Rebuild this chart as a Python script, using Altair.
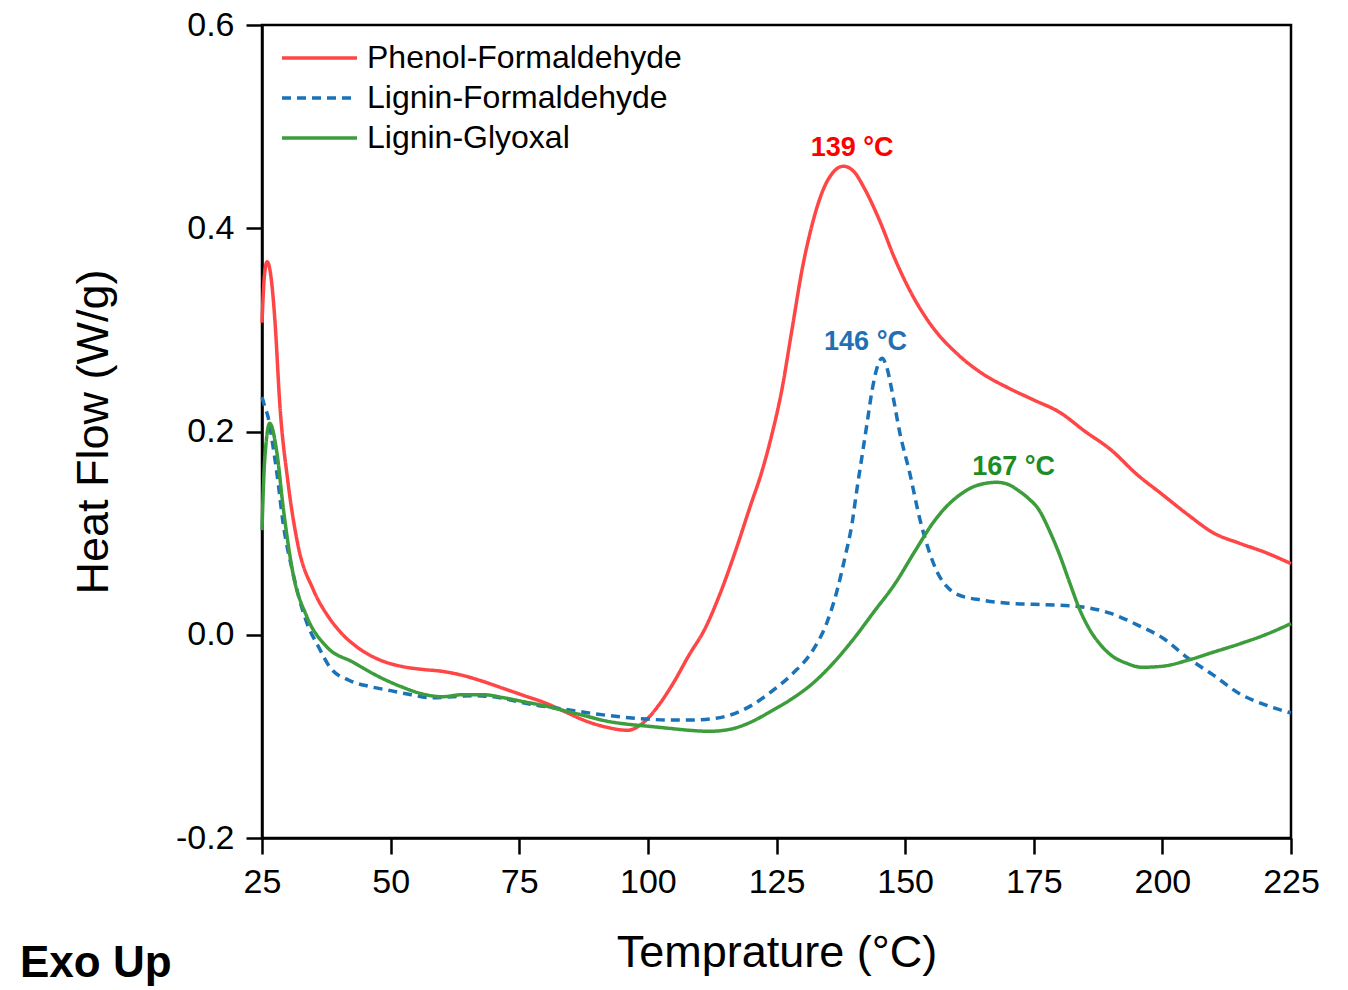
import altair as alt
import pandas as pd

# ---- data ----
pf_t = [25, 25.5, 26, 26.8, 27.5, 28.5, 30, 32, 35, 38, 40, 44, 48, 52, 56, 60, 64, 68, 72, 76,
        80, 84, 88, 92, 96, 99, 102, 105, 108, 111, 114, 117, 120, 122, 124, 126, 128, 130, 132,
        134, 136, 138, 140, 142, 145, 148, 151, 155, 160, 165, 170, 175, 180, 185, 190, 195, 200,
        205, 210, 215, 220, 225]
pf_h = [0.307, 0.355, 0.367, 0.35, 0.31, 0.224, 0.152, 0.088, 0.044, 0.017, 0.004, -0.014, -0.025,
        -0.031, -0.034, -0.036, -0.04, -0.046, -0.053, -0.06, -0.067, -0.076, -0.085, -0.091,
        -0.094, -0.087, -0.07, -0.047, -0.02, 0.005, 0.04, 0.082, 0.128, 0.158, 0.195, 0.24, 0.3,
        0.36, 0.405, 0.437, 0.455, 0.461, 0.456, 0.44, 0.408, 0.37, 0.338, 0.305, 0.277, 0.257,
        0.243, 0.231, 0.219, 0.2, 0.182, 0.158, 0.138, 0.118, 0.1, 0.09, 0.081, 0.07]

lf_t = [25, 25.5, 26.2, 27, 27.9, 29.1, 31, 33.7, 36, 38.2, 42, 46, 50, 54, 58, 62, 66, 70, 74, 78,
        82, 86, 90, 95, 100, 104, 108, 112, 116, 120, 124, 128.2, 132.1, 134.8, 136.8, 138.3,
        139.7, 140.6, 141.6, 142.6, 143.6, 144.5, 145.5, 146.5, 147.4, 149, 150.9, 152.9, 154.8,
        156.4, 158, 160, 165, 170, 175, 180, 185, 190, 195, 200, 205, 210, 215, 220, 225]
lf_h = [0.234, 0.225, 0.214, 0.19, 0.159, 0.11, 0.061, 0.012, -0.012, -0.032, -0.045, -0.051,
        -0.055, -0.059, -0.062, -0.061, -0.06, -0.061, -0.065, -0.069, -0.072, -0.075, -0.078,
        -0.081, -0.083, -0.084, -0.084, -0.083, -0.079, -0.07, -0.056, -0.038, -0.015, 0.012,
        0.044, 0.076, 0.11, 0.142, 0.175, 0.208, 0.241, 0.262, 0.272, 0.262, 0.241, 0.198, 0.159,
        0.113, 0.08, 0.06, 0.048, 0.04, 0.034, 0.031, 0.03, 0.029, 0.027, 0.021, 0.01, -0.003,
        -0.023, -0.04, -0.058, -0.069, -0.077]

lg_t = [25, 25.5, 26.5, 27.9, 29.1, 31, 33.7, 37.6, 42.7, 48, 52, 56, 60, 64, 68, 72, 76, 80, 84,
        88, 92, 96, 100, 104, 108, 112, 116, 120, 124, 128, 132, 136, 140, 144, 148, 152, 155.4,
        158, 161, 164, 167.8, 170, 172, 174, 176, 178, 180, 182, 184, 186, 188, 190, 193, 196, 200,
        205, 210, 215, 220, 225]
lg_h = [0.103, 0.17, 0.208, 0.179, 0.126, 0.061, 0.018, -0.012, -0.027, -0.042, -0.051, -0.058,
        -0.061, -0.059, -0.059, -0.062, -0.066, -0.07, -0.075, -0.08, -0.085, -0.088, -0.09,
        -0.092, -0.094, -0.095, -0.093, -0.086, -0.075, -0.063, -0.048, -0.028, -0.004, 0.023,
        0.05, 0.083, 0.11, 0.126, 0.139, 0.147, 0.15, 0.148, 0.142, 0.134, 0.123, 0.103, 0.079,
        0.051, 0.024, 0.004, -0.01, -0.02, -0.028, -0.032, -0.031, -0.025, -0.017, -0.009, 0.0,
        0.011]

series_names = ["Phenol-Formaldehyde", "Lignin-Formaldehyde", "Lignin-Glyoxal"]
line_colors = ["#ff4646", "#1a72b8", "#3d9d3d"]

peak_text = ["139 °C", "146 °C", "167 °C"]
peak_t = [139.7, 142.3, 171.1]
peak_h = [0.479, 0.288, 0.165]
peak_colors = ["#ff0000", "#1f70b5", "#1e8c1e"]

x_ticks = [25, 50, 75, 100, 125, 150, 175, 200, 225]
y_ticks = [-0.2, 0.0, 0.2, 0.4, 0.6]

FONT = "Liberation Sans"

rows = []
for name, ts, hs in zip(series_names, [pf_t, lf_t, lg_t], [pf_h, lf_h, lg_h]):
    for i, (t, h) in enumerate(zip(ts, hs)):
        rows.append({"series": name, "T": t, "H": h, "i": i})
df = pd.DataFrame(rows)

peaks = pd.DataFrame({"label": peak_text, "T": peak_t, "H": peak_h, "c": peak_colors})

W, H = 1029, 813

xscale = alt.Scale(domain=[25, 225], nice=False, zero=False)
yscale = alt.Scale(domain=[-0.2, 0.6], nice=False, zero=False)

legend_cfg = dict(title=None, orient="none", legendX=40.5, legendY=16,
                  labelFontSize=32, labelFont=FONT, labelColor="black", labelLimit=0,
                  symbolType="M-2.5,0H2.5", symbolSize=900, symbolStrokeWidth=3.5,
                  labelOffset=30.5, rowPadding=7, padding=0)

lines = alt.Chart(df).mark_line(strokeWidth=3.5, interpolate="monotone").encode(
    x=alt.X("T:Q", scale=xscale,
            axis=alt.Axis(values=x_ticks, title="Temprature (°C)", titleX=514.5, titleY=128,
                          titleBaseline="alphabetic", titleAnchor="middle", labelPadding=11,
                          labelFlush=False)),
    y=alt.Y("H:Q", scale=yscale,
            axis=alt.Axis(values=y_ticks, title="Heat Flow (W/g)", titleX=-155, titleY=406.5,
                          titleBaseline="alphabetic", titleAnchor="middle", labelPadding=12,
                          labelFlush=False,
                          labelExpr="datum.value < 0 ? '-' + format(-datum.value, '.1f') : format(datum.value, '.1f')")),
    color=alt.Color("series:N", sort=series_names,
                    scale=alt.Scale(domain=series_names, range=line_colors),
                    legend=alt.Legend(**legend_cfg)),
    strokeDash=alt.StrokeDash("series:N", sort=series_names,
                              scale=alt.Scale(domain=series_names, range=[[1, 0], [9, 6], [1, 0]]),
                              legend=alt.Legend(**legend_cfg)),
    detail="series:N",
    order="i:Q",
)

labels = alt.Chart(peaks).mark_text(fontSize=27, fontWeight="bold", font=FONT,
                                    align="center", baseline="middle").encode(
    x=alt.X("T:Q", scale=xscale),
    y=alt.Y("H:Q", scale=yscale),
    text="label:N",
    color=alt.Color("c:N", scale=None),
)

exo = alt.Chart(pd.DataFrame({"t": ["Exo Up"]})).mark_text(
    fontSize=44, fontWeight="bold", font=FONT, align="left", baseline="alphabetic", color="black"
).encode(x=alt.value(-242), y=alt.value(952), text="t:N")

chart = alt.layer(lines, labels, exo).properties(
    width=W, height=H,
    autosize=alt.AutoSizeParams(type="none"),
    padding={"left": 254, "top": 17, "right": 40, "bottom": 150},
).configure_view(
    stroke="black", strokeWidth=2.5
).configure_axis(
    domainColor="black", domainWidth=2.5, tickColor="black", tickWidth=2.5, tickSize=16,
    grid=False, labelFont=FONT, labelFontSize=34, labelColor="black",
    titleFont=FONT, titleFontSize=45, titleFontWeight="normal", titleColor="black",
).configure_legend(
    labelFont=FONT
)

chart.save("out.html", embed_options={"renderer": "svg", "actions": False})
